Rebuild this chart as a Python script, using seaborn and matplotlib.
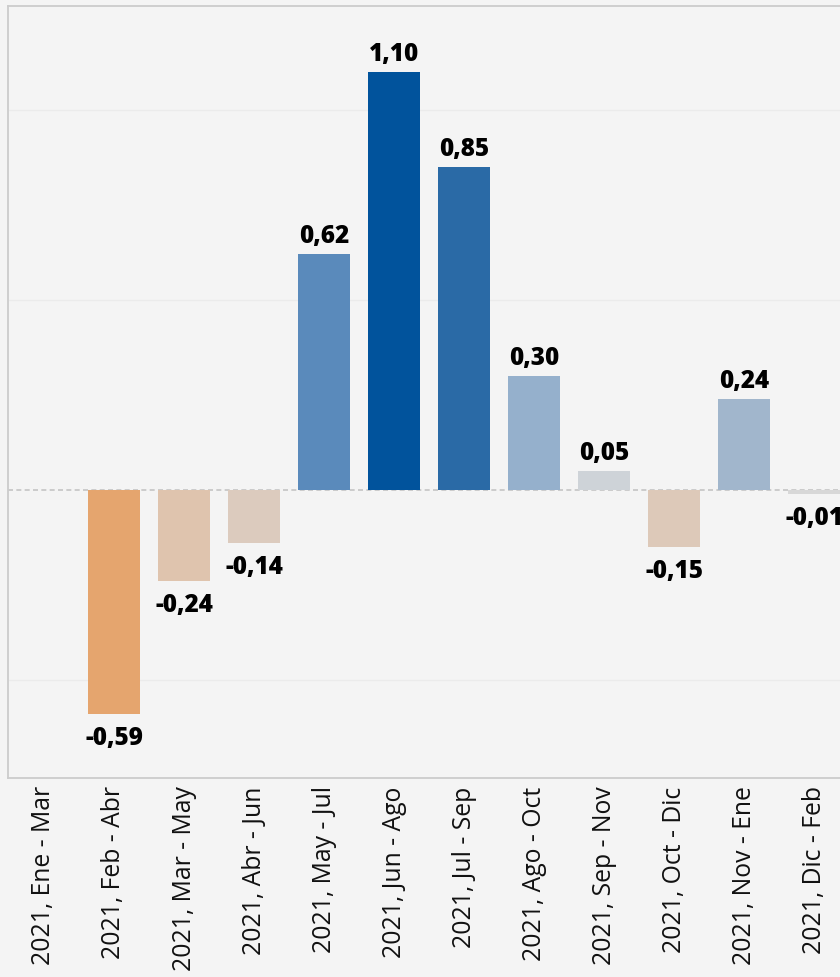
import numpy as np
import pandas as pd
import matplotlib
matplotlib.use("Agg")
import matplotlib.pyplot as plt
import seaborn as sns

categories = ["2021, Ene - Mar", "2021, Feb - Abr", "2021, Mar - May", "2021, Abr - Jun",
              "2021, May - Jul", "2021, Jun - Ago", "2021, Jul - Sep", "2021, Ago - Oct",
              "2021, Sep - Nov", "2021, Oct - Dic", "2021, Nov - Ene", "2021, Dic - Feb"]
values = [np.nan, -0.59, -0.24, -0.14, 0.62, 1.10, 0.85, 0.30, 0.05, -0.15, 0.24, -0.01]
bar_colors = ["#cccccc", "#e5a56e", "#dfc4ae", "#dccbbe", "#5a8abb", "#01539c",
              "#2a6aa6", "#95b0cc", "#ced3d8", "#ddc9b9", "#a1b6cc", "#d8d8d8"]

sns.set_theme(style="white")
plt.rcParams['font.family'] = ['Open Sans', 'DejaVu Sans']

bg = "#f4f4f4"
df = pd.DataFrame({"cat": categories, "val": values})

fig = plt.figure(figsize=(8.4, 9.77), dpi=100, facecolor=bg)
ax = fig.add_axes([8/840, 1 - 778/977, 1 - 8/840, (778 - 6)/977])
ax.set_facecolor(bg)

sns.barplot(data=df, x="cat", y="val", hue="cat", order=categories, hue_order=categories,
            palette=dict(zip(categories, bar_colors)), legend=False, width=0.74,
            saturation=1, linewidth=0, ax=ax, zorder=3)

ax.set_xlim(-0.514, 11.37)
ax.set_ylim(-0.758, 1.274)

for gy in [-0.5, 0.5, 1.0]:
    ax.axhline(gy, color="#ebebeb", lw=1, zorder=1)
ax.axhline(0, color="#c4c4c4", lw=1.2, ls=(0, (3, 2)), zorder=2)

for i, v in enumerate(values):
    if np.isnan(v):
        continue
    txt = f"{v:.2f}".replace(".", ",")
    if v >= 0:
        ax.annotate(txt, (i, v), xytext=(0, 3.8), textcoords="offset points",
                    ha="center", va="bottom", fontsize=17.5, fontweight="heavy", color="#000000")
    else:
        ax.annotate(txt, (i, v), xytext=(0, -8.5), textcoords="offset points",
                    ha="center", va="top", fontsize=17.5, fontweight="heavy", color="#000000")

ax.set_xlabel("")
ax.set_ylabel("")
ax.set_yticks([])
ax.set_xticks(range(len(categories)))
ax.set_xticklabels(categories, rotation=90, fontsize=17.8, color="#111111")
ax.tick_params(axis="x", length=0, pad=6)

for s in ["left", "top", "bottom"]:
    ax.spines[s].set_color("#cccccc")
    ax.spines[s].set_linewidth(1.3)
ax.spines["right"].set_visible(False)

fig.savefig("out.png", dpi=100, facecolor=bg)
